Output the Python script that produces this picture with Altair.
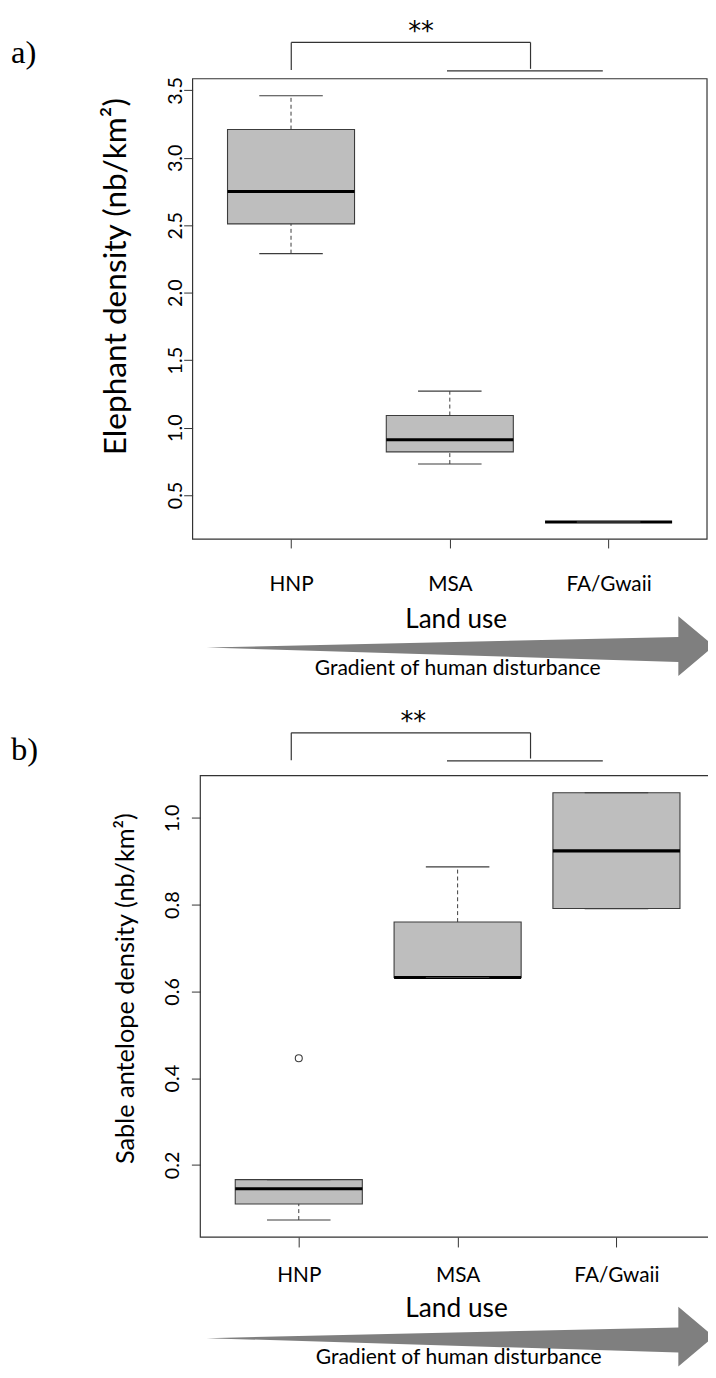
import altair as alt
import pandas as pd

# ---------------- data ----------------
GROUPS = ["HNP", "MSA", "FA/Gwaii"]
POS = [1, 2, 3]

# a) Elephant density (nb/km2): whisker low, Q1, median, Q3, whisker high
ELE_LO = [2.29, 0.73, 0.30]
ELE_Q1 = [2.51, 0.82, 0.30]
ELE_MED = [2.75, 0.91, 0.30]
ELE_Q3 = [3.21, 1.09, 0.30]
ELE_HI = [3.46, 1.27, 0.30]
ELE_OUT_POS = []
ELE_OUT_VAL = []
ELE_TICKS = [0.5, 1.0, 1.5, 2.0, 2.5, 3.0, 3.5]

# b) Sable antelope density (nb/km2)
SAB_LO = [0.073, 0.632, 0.791]
SAB_Q1 = [0.110, 0.632, 0.791]
SAB_MED = [0.145, 0.632, 0.924]
SAB_Q3 = [0.166, 0.760, 1.058]
SAB_HI = [0.166, 0.887, 1.058]
SAB_OUT_POS = [1]
SAB_OUT_VAL = [0.446]
SAB_TICKS = [0.2, 0.4, 0.6, 0.8, 1.0]

XTITLE = "Land use"
ARROW_TEXT = "Gradient of human disturbance"
SIG = "**"

FONT = "Lato"
FILL = "#bebebe"
EDGE = "#3c3c3c"
AXC = "#333333"

W, H = 708, 1370
XDOM = [0.5 - 0.04 * 3, 3.5 + 0.04 * 3]

ONE = pd.DataFrame({"k": [0]})

ARROW_PATH = "M -477 1.5 L 0 -9.2 L 0 -30.2 L 36 0 L 0 30.2 L 0 16.1 Z"

label_expr = " : ".join(
    f"datum.value == {p} ? '{g}'" for p, g in zip(POS[:-1], GROUPS[:-1])
) + f" : '{GROUPS[-1]}'"


def rule(x, y, x2=None, y2=None):
    enc = dict(x=alt.value(x), y=alt.value(y))
    if x2 is not None:
        enc["x2"] = alt.value(x2)
    if y2 is not None:
        enc["y2"] = alt.value(y2)
    return alt.Chart(ONE).mark_rule(color=AXC, strokeWidth=1.2).encode(**enc)


def text(s, x, y, size, font=FONT, align="center", baseline="alphabetic"):
    return alt.Chart(ONE).mark_text(
        text=s, font=font, fontSize=size, align=align, baseline=baseline, color="#000"
    ).encode(x=alt.value(x), y=alt.value(y))


def panel(lo, q1, med, q3, hi, opos, oval, ticks, ytitle, P):
    df = pd.DataFrame({"pos": POS, "group": GROUPS, "lo": lo, "q1": q1,
                       "med": med, "q3": q3, "hi": hi})
    df["left"] = df["pos"] - 0.4
    df["right"] = df["pos"] + 0.4
    df["capl"] = df["pos"] - 0.2
    df["capr"] = df["pos"] + 0.2
    allv = list(lo) + list(hi) + list(oval)
    vmin, vmax = min(allv), max(allv)
    ext = 0.04 * (vmax - vmin)
    ydom = [vmin - ext, vmax + ext]

    xsc = alt.Scale(domain=XDOM, range=P["xr"], nice=False, zero=False)
    ysc = alt.Scale(domain=ydom, range=P["yr"], nice=False, zero=False)

    xaxis = alt.Axis(
        orient="bottom", offset=P["xoff"], values=POS, labelExpr=label_expr,
        domain=False, grid=False, ticks=True, tickSize=P["xtick"], tickColor=AXC,
        labelPadding=P["xlabpad"], labelFont=FONT, labelFontSize=P["xlabsize"],
        labelColor="#000", labelBaseline="alphabetic", labelAlign="center",
        title=XTITLE, titleX=P["xtx"], titleY=P["xty"], titleAlign="center",
        titleBaseline="alphabetic", titleFont=FONT, titleFontSize=P["xtsize"],
        titleFontWeight="normal", titleColor="#000", labelFlush=False,
        labelOverlap=False,
    )
    yaxis = alt.Axis(
        orient="left", offset=P["yoff"], values=ticks, format=".1f",
        domain=False, grid=False, tickSize=P["ytick"], tickColor=AXC,
        labelAngle=270, labelAlign="center", labelBaseline="alphabetic",
        labelPadding=P["ylabpad"], labelFont=FONT, labelFontSize=P["ylabsize"],
        labelColor="#000", labelFlush=False, labelOverlap=False,
        title=ytitle, titleAngle=270, titleX=P["ytx"], titleY=P["yty"],
        titleAlign="center", titleBaseline="alphabetic", titleFont=FONT,
        titleFontSize=P["ytsize"], titleFontWeight="normal", titleColor="#000",
    )

    def X(f):
        return alt.X(f, type="quantitative", scale=xsc, axis=xaxis)

    def Y(f):
        return alt.Y(f, type="quantitative", scale=ysc, axis=yaxis)

    base = alt.Chart(df)
    box = base.mark_rect(fill=FILL, stroke=EDGE, strokeWidth=1.1).encode(
        x=X("left"), x2="right:Q", y=Y("q1"), y2="q3:Q")
    median = base.mark_rule(color="#000", strokeWidth=3.2).encode(
        x=X("left"), x2="right:Q", y=Y("med"))
    wh_up = base.mark_rule(color=EDGE, strokeWidth=1, strokeDash=[4, 3]).encode(
        x=X("pos"), y=Y("q3"), y2="hi:Q")
    wh_lo = base.mark_rule(color=EDGE, strokeWidth=1, strokeDash=[4, 3]).encode(
        x=X("pos"), y=Y("lo"), y2="q1:Q")
    cap_up = base.mark_rule(color=EDGE, strokeWidth=1.2).encode(
        x=X("capl"), x2="capr:Q", y=Y("hi"))
    cap_lo = base.mark_rule(color=EDGE, strokeWidth=1.2).encode(
        x=X("capl"), x2="capr:Q", y=Y("lo"))

    layers = [box, median, wh_up, wh_lo, cap_up, cap_lo]
    if len(opos):
        odf = pd.DataFrame({"pos": opos, "val": oval})
        layers.append(
            alt.Chart(odf).mark_point(shape="circle", filled=False, size=50,
                                      color=EDGE, strokeWidth=1.1, opacity=1)
            .encode(x=X("pos"), y=Y("val"))
        )

    xr, yr = P["xr"], P["yr"]
    border = alt.Chart(ONE).mark_rect(fillOpacity=0, stroke=AXC, strokeWidth=1.2).encode(
        x=alt.value(xr[0]), x2=alt.value(xr[1]), y=alt.value(yr[1]), y2=alt.value(yr[0]))
    layers.append(border)

    # significance bracket
    bx1, bx2, by, bl1, bl2 = P["br"]
    lx1, lx2, ly = P["low"]
    layers += [
        rule(bx1, by, x2=bx2),
        rule(bx1, by, y2=bl1),
        rule(bx2, by, y2=bl2),
        rule(lx1, ly, x2=lx2),
        text(SIG, P["star"][0], P["star"][1], 26, font="DejaVu Sans"),
        text(P["tag"], P["tagxy"][0], P["tagxy"][1], 33,
             font="Liberation Serif", align="left"),
    ]

    # gradient arrow
    ax, ay = P["arrow"]
    layers.append(
        alt.Chart(ONE).mark_point(shape=ARROW_PATH, size=4, filled=True,
                                  color="#7f7f7f", opacity=1, strokeWidth=0)
        .encode(x=alt.value(ax), y=alt.value(ay))
    )
    layers.append(text(ARROW_TEXT, P["grad"][0], P["grad"][1], 21.3))

    return alt.layer(*layers)


PA = dict(
    xr=[186.7, 707.0], yr=[529.3, 63.7],
    xoff=529.3 - H, xtick=9, xlabpad=43, xlabsize=21,
    xtx=452.8, xty=89.4, xtsize=26.4,
    yoff=-186.7, ytick=9, ylabpad=2, ylabsize=20,
    ytx=-68, yty=263.5, ytsize=32,
    br=(286.5, 528.5, 27, 55, 53.7), low=(444, 601.6, 55.7),
    star=(417.7, 24.1), tag="a)", tagxy=(3, 48),
    arrow=(678, 637.5), grad=(462.8 - 8, 666.3),
)
PB = dict(
    xr=[194.5, 715.0], yr=[1235.3, 768.6],
    xoff=1235.3 - H, xtick=10, xlabpad=35, xlabsize=21,
    xtx=453.2, xty=80, xtsize=26.6,
    yoff=-194.5, ytick=9, ylabpad=13, ylabsize=20,
    ytx=-67.5, yty=983.5, ytsize=25.6,
    br=(286.5, 528.5, 725.3, 753, 751.3), low=(444, 601.6, 753.7),
    star=(410, 722.1), tag="b)", tagxy=(3, 752.5),
    arrow=(678, 1336), grad=(463.8 - 8, 1364),
)

pa = panel(ELE_LO, ELE_Q1, ELE_MED, ELE_Q3, ELE_HI, ELE_OUT_POS, ELE_OUT_VAL,
           ELE_TICKS, "Elephant density (nb/km²)", PA)
pb = panel(SAB_LO, SAB_Q1, SAB_MED, SAB_Q3, SAB_HI, SAB_OUT_POS, SAB_OUT_VAL,
           SAB_TICKS, "Sable antelope density (nb/km²)", PB)

chart = (
    alt.layer(pa, pb)
    .resolve_scale(x="independent", y="independent")
    .properties(width=W, height=H, padding=0,
                autosize=alt.AutoSizeParams(type="none"),
                background="white")
    .configure_view(stroke=None)
    .configure_axis(grid=False)
)

chart.save("out.html", embed_options={"renderer": "svg", "actions": False})
